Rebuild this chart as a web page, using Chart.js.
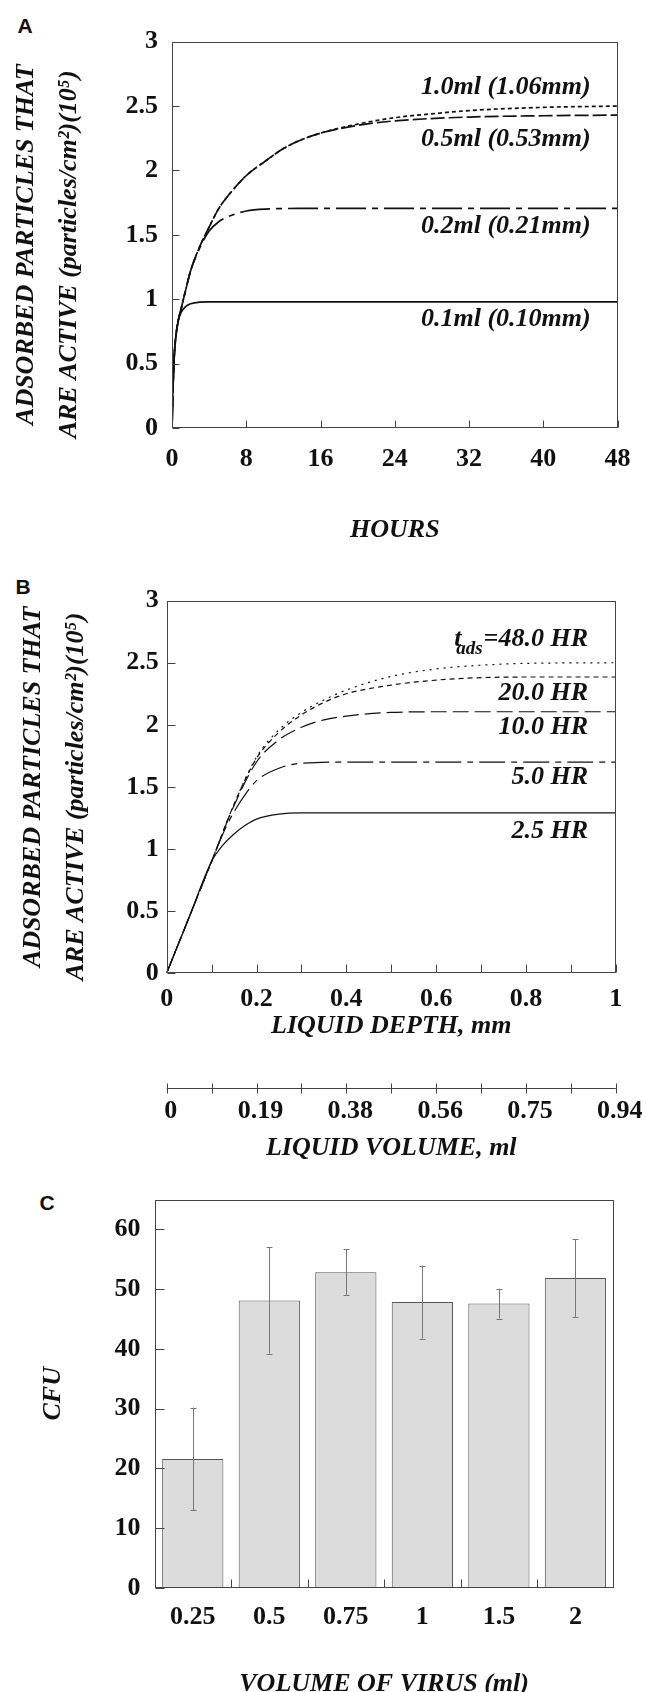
<!DOCTYPE html>
<html><head><meta charset="utf-8">
<script src="https://cdn.jsdelivr.net/npm/chart.js@4.4.1/dist/chart.umd.min.js"></script>
<style>
html,body{margin:0;padding:0;background:#fff;overflow:hidden;width:646px;height:1692px;position:relative;}
canvas{position:absolute;left:0;}
.letter{position:absolute;font-family:'Liberation Sans',Arial,sans-serif;font-weight:bold;font-size:21px;line-height:1;transform:translate(-50%,-50%);color:#111;}
</style></head><body>
<div class="letter" style="left:25px;top:25px">A</div>
<div class="letter" style="left:23px;top:586px">B</div>
<div class="letter" style="left:47px;top:1202px">C</div>
<canvas id="cA" width="646" height="560" style="top:0px"></canvas>
<canvas id="cB" width="646" height="610" style="top:560px"></canvas>
<canvas id="cC" width="646" height="530" style="top:1170px"></canvas>
<script>
// ---------- DATA ----------
// Panel A: adsorbed active particles vs hours, per liquid volume
const hourTicks = [0, 8, 16, 24, 32, 40, 48];
const hourTickLabels = ['0', '8', '16', '24', '32', '40', '48'];
const yTicksAB = [0, 0.5, 1, 1.5, 2, 2.5, 3];
const yTickLabelsAB = ['0', '0.5', '1', '1.5', '2', '2.5', '3'];
const seriesNamesA = ['1.0ml (1.06mm)', '0.5ml (0.53mm)', '0.2ml (0.21mm)', '0.1ml (0.10mm)'];
const a10 = [[0,0],[0.2,0.5],[0.5,0.76],[1,0.93],[1.5,1.08],[2,1.22],[3,1.41],[4,1.56],[5,1.7],[6,1.8],[8,1.96],[10,2.07],[12,2.17],[14,2.24],[16,2.29],[20,2.36],[24,2.41],[28,2.44],[32,2.465],[40,2.49],[48,2.5]];
const a05 = [[0,0],[0.2,0.5],[0.5,0.76],[1,0.93],[1.5,1.08],[2,1.22],[3,1.41],[4,1.56],[5,1.7],[6,1.8],[8,1.96],[10,2.07],[12,2.17],[14,2.24],[16,2.29],[20,2.35],[24,2.385],[32,2.415],[40,2.425],[48,2.43]];
const a02 = [[0,0],[0.2,0.5],[0.5,0.76],[1,0.93],[1.5,1.08],[2,1.22],[3,1.4],[4,1.53],[5,1.6],[6,1.64],[8,1.685],[10,1.7],[14,1.705],[48,1.705]];
const a01 = [[0,0],[0.1,0.3],[0.2,0.5],[0.4,0.7],[0.7,0.84],[1,0.9],[1.5,0.945],[2,0.965],[3,0.978],[4,0.98],[10,0.98],[48,0.98]];

// Panel B: adsorbed active particles vs liquid depth, per adsorption time
const depthTicks = [0, 0.1, 0.2, 0.3, 0.4, 0.5, 0.6, 0.7, 0.8, 0.9, 1];
const depthTickLabels = ['0', '', '0.2', '', '0.4', '', '0.6', '', '0.8', '', '1'];
const volumeTicks = [0, 0.094, 0.188, 0.282, 0.376, 0.47, 0.564, 0.658, 0.752, 0.846, 0.94];
const volumeTickLabels = ['0', '', '0.19', '', '0.38', '', '0.56', '', '0.75', '', '0.94'];
const seriesNamesB = ['48.0 HR', '20.0 HR', '10.0 HR', '5.0 HR', '2.5 HR'];
const b48 = [[0,0],[0.05,0.45],[0.1,0.9],[0.15,1.36],[0.2,1.74],[0.25,1.96],[0.3,2.1],[0.35,2.2],[0.4,2.28],[0.5,2.39],[0.6,2.45],[0.7,2.48],[0.8,2.495],[1,2.5]];
const b20 = [[0,0],[0.05,0.45],[0.1,0.9],[0.15,1.36],[0.2,1.73],[0.25,1.94],[0.3,2.08],[0.35,2.18],[0.4,2.25],[0.5,2.32],[0.6,2.36],[0.7,2.38],[0.8,2.385],[1,2.385]];
const b10 = [[0,0],[0.05,0.45],[0.1,0.9],[0.15,1.35],[0.2,1.7],[0.25,1.88],[0.3,1.98],[0.35,2.04],[0.4,2.07],[0.5,2.1],[0.6,2.105],[1,2.105]];
const b05 = [[0,0],[0.05,0.45],[0.1,0.9],[0.13,1.16],[0.15,1.3],[0.175,1.44],[0.2,1.55],[0.25,1.65],[0.3,1.69],[0.4,1.7],[1,1.7]];
const b25 = [[0,0],[0.05,0.45],[0.1,0.9],[0.125,1.03],[0.15,1.12],[0.175,1.19],[0.2,1.24],[0.25,1.28],[0.3,1.29],[0.4,1.29],[1,1.29]];

// Panel C: CFU vs volume of virus
const virusVolumes = ['0.25', '0.5', '0.75', '1', '1.5', '2'];
const cfuMeans = [21.6, 48.1, 52.85, 47.85, 47.6, 51.9];
const cfuErrors = [8.6, 8.9, 3.8, 6.1, 2.5, 6.5];
const cfuTicks = [0, 10, 20, 30, 40, 50, 60];
const cfuTickLabels = ['0', '10', '20', '30', '40', '50', '60'];

// ---------- STYLE ----------
const SERIF = "'Liberation Serif', 'Times New Roman', Times, serif";
const INK = '#111';
const FRAME = '#444';
const tickFont = {family: SERIF, size: 26, weight: 'bold', lineHeight: 1.2};
const titleFont = {family: SERIF, size: 26, weight: 'bold', style: 'italic', lineHeight: 1.2};
const NB = '\u00A0';

function pts(a) { return a.map(p => ({x: p[0], y: p[1]})); }
function fixTicks(values) { return s => { s.ticks = values.map(v => ({value: v})); }; }
function line(data, label, dash, w) {
  return {label, data: pts(data), borderColor: INK, borderWidth: w, borderDash: dash,
    pointRadius: 0, fill: false, cubicInterpolationMode: 'monotone'};
}

const deco = {
  id: 'deco',
  afterDatasetsDraw(chart, args, o) {
    const ctx = chart.ctx, ca = chart.chartArea;
    ctx.save();
    ctx.strokeStyle = FRAME; ctx.lineWidth = 1;
    const L = Math.round(ca.left) + 0.5, T = Math.round(ca.top) + 0.5;
    const R = Math.round(ca.right) - 0.5, B = Math.round(ca.bottom) - 0.5;
    // error bars
    if (o.errors) {
      const meta = chart.getDatasetMeta(0), ys = chart.scales.y;
      ctx.save(); ctx.strokeStyle = '#777'; ctx.beginPath();
      meta.data.forEach((bar, i) => {
        const x = Math.round(bar.x) + 0.5;
        const y1 = ys.getPixelForValue(o.errors.mean[i] + o.errors.err[i]);
        const y2 = ys.getPixelForValue(o.errors.mean[i] - o.errors.err[i]);
        ctx.moveTo(x, y1); ctx.lineTo(x, y2);
        ctx.moveTo(x - 3, Math.round(y1) + 0.5); ctx.lineTo(x + 3, Math.round(y1) + 0.5);
        ctx.moveTo(x - 3, Math.round(y2) + 0.5); ctx.lineTo(x + 3, Math.round(y2) + 0.5);
      });
      ctx.stroke(); ctx.restore();
    }
    ctx.strokeRect(L, T, R - L, B - T);
    ctx.beginPath();
    const ys = chart.scales.y, xs = chart.scales.x;
    ys.ticks.forEach(t => {
      const y = Math.round(ys.getPixelForValue(t.value)) + 0.5;
      ctx.moveTo(L, y); ctx.lineTo(L + o.yTick, y);
    });
    if (o.xBoundaries) {
      for (let i = 1; i < xs.ticks.length; i++) {
        const x = Math.round((xs.getPixelForValue(i - 1) + xs.getPixelForValue(i)) / 2) + 0.5;
        ctx.moveTo(x, B); ctx.lineTo(x, B - o.xTick);
      }
    } else {
      xs.ticks.forEach(t => {
        const x = Math.round(xs.getPixelForValue(t.value)) + 0.5;
        ctx.moveTo(x, B); ctx.lineTo(x, B - o.xTick);
      });
    }
    ctx.stroke();
    // secondary volume axis
    const x2 = chart.scales.x2;
    if (x2) {
      const y = Math.round(x2.top) + 0.5;
      ctx.beginPath();
      ctx.moveTo(x2.left, y); ctx.lineTo(x2.right, y);
      x2.ticks.forEach(t => {
        const x = Math.round(x2.getPixelForValue(t.value)) + 0.5;
        ctx.moveTo(x, y - 5); ctx.lineTo(x, y + 5);
      });
      ctx.stroke();
    }
    // curve annotations
    ctx.fillStyle = INK; ctx.textBaseline = 'middle';
    const f = (sz) => 'italic bold ' + sz + 'px ' + SERIF;
    (o.labels || []).forEach(l => {
      ctx.font = f(26); ctx.textAlign = 'right';
      const px = xs.getPixelForValue(l.x), py = ys.getPixelForValue(l.y);
      ctx.fillText(l.text, px, py);
      if (l.sub) {
        const w = ctx.measureText(l.text).width;
        ctx.font = f(19);
        const x1 = px - w - 1;
        ctx.fillText(l.sub, x1, py + 10);
        const ws = ctx.measureText(l.sub).width;
        ctx.font = f(26); ctx.textAlign = 'left';
        ctx.fillText(l.lead, x1 - ws - 2, py);
      }
    });
    ctx.restore();
  }
};

const noGrid = {display: false, drawTicks: false, tickLength: 0};
const noBorder = {display: false};

// ---------- PANEL A ----------
new Chart(document.getElementById('cA'), {
  type: 'line',
  data: {datasets: [
    line(a10, seriesNamesA[0], [4, 3], 1.7),
    line(a05, seriesNamesA[1], [14, 4], 1.7),
    line(a02, seriesNamesA[2], [30, 6, 6, 6], 1.7),
    line(a01, seriesNamesA[3], [], 1.7)
  ]},
  options: {
    responsive: false, animation: false, devicePixelRatio: 1,
    layout: {padding: {top: 41.7, right: 18, bottom: 14.4, left: 0}},
    plugins: {legend: {display: false}, tooltip: {enabled: false},
      deco: {yTick: 7, xTick: 7, labels: [
        {text: seriesNamesA[0], x: 45.1, y: 2.646},
        {text: seriesNamesA[1], x: 45.1, y: 2.244},
        {text: seriesNamesA[2], x: 45.1, y: 1.565},
        {text: seriesNamesA[3], x: 45.1, y: 0.845}
      ]}},
    scales: {
      x: {type: 'linear', min: 0, max: 48, afterBuildTicks: fixTicks(hourTicks),
        afterFit: s => { s.height = 117.6; }, grid: noGrid, border: noBorder,
        ticks: {font: tickFont, color: INK, padding: 15.4, autoSkip: false, maxRotation: 0, callback: (v, i) => hourTickLabels[i]},
        title: {display: true, text: 'HOURS', font: titleFont, color: INK, padding: {top: 0, bottom: 0}}},
      y: {type: 'linear', min: 0, max: 3, afterBuildTicks: fixTicks(yTicksAB),
        afterFit: s => { s.width = 172; }, grid: noGrid, border: noBorder,
        ticks: {font: tickFont, color: INK, padding: 14, callback: (v, i) => yTickLabelsAB[i]},
        title: {display: true, text: ['ADSORBED PARTICLES THAT' + NB.repeat(3), 'ARE ACTIVE (particles/cm\u00B2)(10\u2075)' + NB.repeat(6)],
          font: {family: SERIF, size: 26, weight: 'bold', style: 'italic', lineHeight: '43px'}, color: INK, padding: {top: 5.2, bottom: 0}}}
    }
  },
  plugins: [deco]
});

// ---------- PANEL B ----------
new Chart(document.getElementById('cB'), {
  type: 'line',
  data: {datasets: [
    line(b48, seriesNamesB[0], [2, 5], 1.2),
    line(b20, seriesNamesB[1], [5, 4], 1.2),
    line(b10, seriesNamesB[2], [16, 6], 1.2),
    line(b05, seriesNamesB[3], [26, 6, 6, 6], 1.2),
    line(b25, seriesNamesB[4], [], 1.2)
  ]},
  options: {
    responsive: false, animation: false, devicePixelRatio: 1,
    layout: {padding: {top: 40.7, right: 30, bottom: 6.4, left: 0}},
    plugins: {legend: {display: false}, tooltip: {enabled: false},
      deco: {yTick: 8, xTick: 8, labels: [
        {text: '=' + seriesNamesB[0], x: 0.938, y: 2.69, sub: 'ads', lead: 't'},
        {text: seriesNamesB[1], x: 0.938, y: 2.257},
        {text: seriesNamesB[2], x: 0.938, y: 1.98},
        {text: seriesNamesB[3], x: 0.938, y: 1.575},
        {text: seriesNamesB[4], x: 0.938, y: 1.142}
      ]}},
    scales: {
      x: {type: 'linear', min: 0, max: 1, weight: 0, afterBuildTicks: fixTicks(depthTicks),
        afterFit: s => { s.height = 115; }, grid: noGrid, border: noBorder,
        ticks: {font: tickFont, color: INK, padding: 10.4, autoSkip: false, maxRotation: 0, callback: (v, i) => depthTickLabels[i]},
        title: {display: true, text: 'LIQUID DEPTH, mm', font: titleFont, color: INK, padding: {top: 0, bottom: 46.4}}},
      x2: {type: 'linear', axis: 'x', position: 'bottom', min: 0, max: 0.94, weight: 1, afterBuildTicks: fixTicks(volumeTicks),
        afterFit: s => { s.height = 75.6; }, grid: noGrid, border: noBorder,
        ticks: {font: tickFont, color: INK, padding: 7.4, labelOffset: 4, autoSkip: false, maxRotation: 0, callback: (v, i) => volumeTickLabels[i]},
        title: {display: true, text: 'LIQUID VOLUME, ml', font: titleFont, color: INK, padding: {top: 0, bottom: 0}}},
      y: {type: 'linear', min: 0, max: 3, afterBuildTicks: fixTicks(yTicksAB),
        afterFit: s => { s.width = 166.7; }, grid: noGrid, border: noBorder,
        ticks: {font: tickFont, color: INK, padding: 8, callback: (v, i) => yTickLabelsAB[i]},
        title: {display: true, text: ['ADSORBED PARTICLES THAT', 'ARE ACTIVE (particles/cm\u00B2)(10\u2075)' + NB.repeat(3)],
          font: {family: SERIF, size: 26, weight: 'bold', style: 'italic', lineHeight: '43px'}, color: INK, padding: {top: 11.5, bottom: 0}}}
    }
  },
  plugins: [deco]
});

// ---------- PANEL C ----------
new Chart(document.getElementById('cC'), {
  type: 'bar',
  data: {labels: virusVolumes, datasets: [{
    label: 'CFU', data: cfuMeans, backgroundColor: '#dcdcdc', borderColor: '#555', borderWidth: 1,
    borderSkipped: false, barPercentage: 0.8, categoryPercentage: 1.0
  }]},
  options: {
    responsive: false, animation: false, devicePixelRatio: 1,
    layout: {padding: {top: 28.3, right: 32.3, bottom: 0.4, left: 0}},
    plugins: {legend: {display: false}, tooltip: {enabled: false},
      deco: {yTick: 9, xTick: 8, xBoundaries: true, errors: {mean: cfuMeans, err: cfuErrors}}},
    scales: {
      x: {type: 'category', offset: true, afterFit: s => { s.height = 111.6; }, grid: noGrid, border: noBorder,
        ticks: {font: tickFont, color: INK, padding: 13.4, autoSkip: false, maxRotation: 0},
        title: {display: true, text: 'VOLUME OF VIRUS (ml)', font: titleFont, color: INK, padding: {top: 0, bottom: 0}}},
      y: {type: 'linear', min: 0, max: 65, afterBuildTicks: fixTicks(cfuTicks),
        afterFit: s => { s.width = 154.5; }, grid: noGrid, border: noBorder,
        ticks: {font: tickFont, color: INK, padding: 14, callback: (v, i) => cfuTickLabels[i]},
        title: {display: true, text: 'CFU', font: titleFont, color: INK, padding: {top: 38, bottom: 0}}}
    }
  },
  plugins: [deco]
});
</script>
</body></html>
